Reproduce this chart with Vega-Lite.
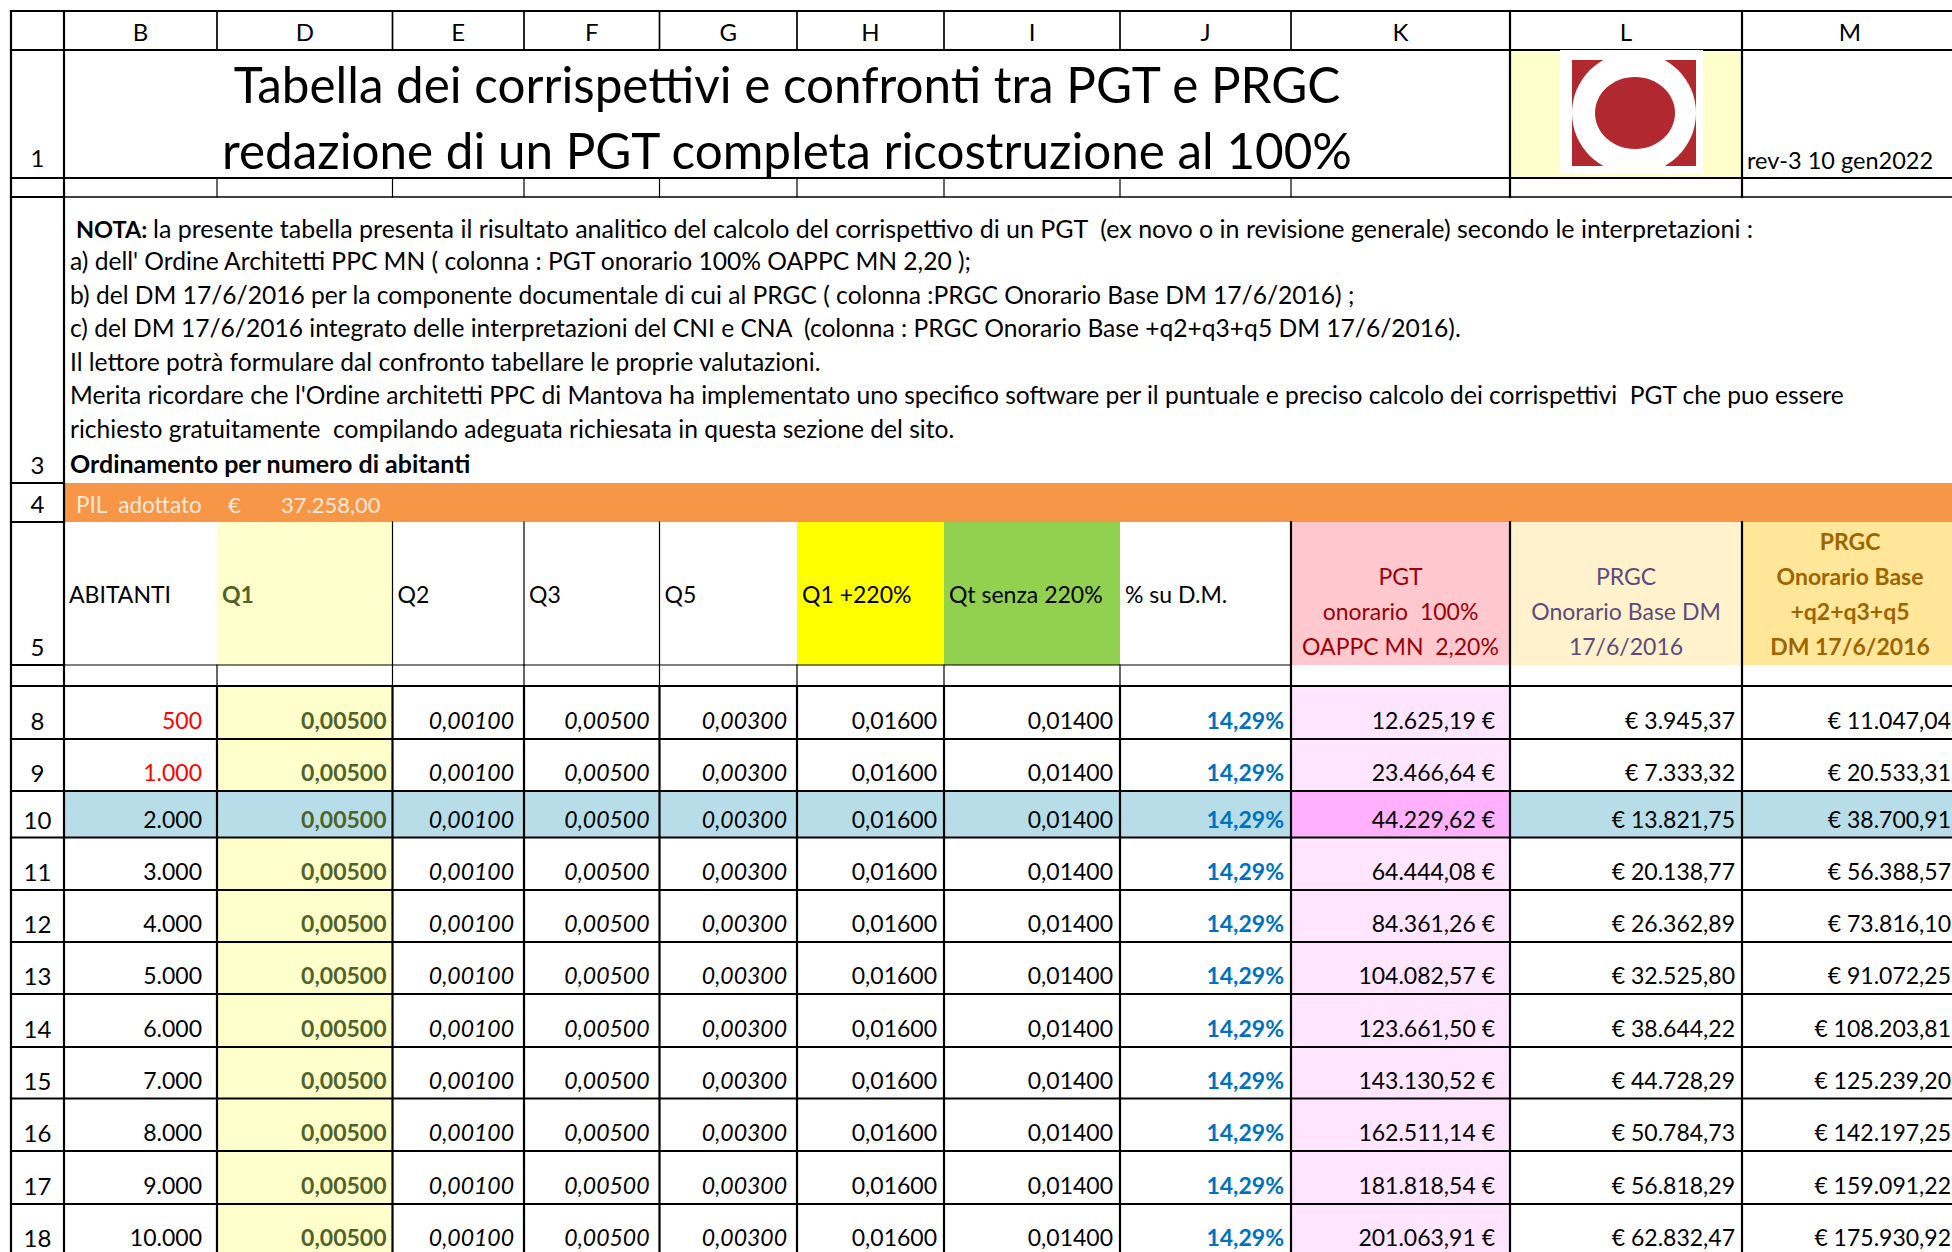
{
"$schema":"https://vega.github.io/schema/vega-lite/v6.json",
"width":1952,"height":1252,"autosize":"none","padding":0,"background":"white",
"config":{"view":{"stroke":null},"font":"Lato","text":{"font":"Lato"}},
"datasets":{
"cols":[
{"c":"0","cl":0,"cr":11,"cm":5.5},
{"c":"rh","cl":11,"cr":64,"cm":37.5},
{"c":"B","cl":64,"cr":217,"cm":140.5},
{"c":"D","cl":217,"cr":392.5,"cm":304.75},
{"c":"E","cl":392.5,"cr":524,"cm":458.25},
{"c":"F","cl":524,"cr":659.5,"cm":591.75},
{"c":"G","cl":659.5,"cr":797,"cm":728.25},
{"c":"H","cl":797,"cr":944,"cm":870.5},
{"c":"I","cl":944,"cr":1120,"cm":1032},
{"c":"J","cl":1120,"cr":1291,"cm":1205.5},
{"c":"K","cl":1291,"cr":1510,"cm":1400.5},
{"c":"L","cl":1510,"cr":1742,"cm":1626},
{"c":"M","cl":1742,"cr":1958,"cm":1850},
{"c":"B:K","cl":64,"cr":1510,"cm":787}
],
"rows":[
{"r":"0","rt":0,"rb":11,"rm":5.5},
{"r":"hdr","rt":11,"rb":50,"rm":30.5},
{"r":"1","rt":50,"rb":178,"rm":114},
{"r":"2","rt":178,"rb":197,"rm":187.5},
{"r":"3","rt":197,"rb":483,"rm":340},
{"r":"4","rt":483,"rb":522,"rm":502.5},
{"r":"5","rt":522,"rb":665,"rm":593.5},
{"r":"7","rt":665,"rb":686,"rm":675.5},
{"r":"8","rt":686,"rb":739,"rm":712.5},
{"r":"9","rt":739,"rb":791,"rm":765},
{"r":"10","rt":791,"rb":837.5,"rm":814.25},
{"r":"11","rt":837.5,"rb":890,"rm":863.75},
{"r":"12","rt":890,"rb":942,"rm":916},
{"r":"13","rt":942,"rb":994,"rm":968},
{"r":"14","rt":994,"rb":1047,"rm":1020.5},
{"r":"15","rt":1047,"rb":1098.5,"rm":1072.75},
{"r":"16","rt":1098.5,"rb":1151,"rm":1124.75},
{"r":"17","rt":1151,"rb":1204,"rm":1177.5},
{"r":"18","rt":1204,"rb":1256,"rm":1230}
],
"table":[
{"r":"8","B":"500","D":"0,00500","E":"0,00100","F":"0,00500","G":"0,00300","H":"0,01600","I":"0,01400","J":"14,29%","K":"12.625,19 €","L":"€ 3.945,37","M":"€ 11.047,04"},
{"r":"9","B":"1.000","D":"0,00500","E":"0,00100","F":"0,00500","G":"0,00300","H":"0,01600","I":"0,01400","J":"14,29%","K":"23.466,64 €","L":"€ 7.333,32","M":"€ 20.533,31"},
{"r":"10","B":"2.000","D":"0,00500","E":"0,00100","F":"0,00500","G":"0,00300","H":"0,01600","I":"0,01400","J":"14,29%","K":"44.229,62 €","L":"€ 13.821,75","M":"€ 38.700,91"},
{"r":"11","B":"3.000","D":"0,00500","E":"0,00100","F":"0,00500","G":"0,00300","H":"0,01600","I":"0,01400","J":"14,29%","K":"64.444,08 €","L":"€ 20.138,77","M":"€ 56.388,57"},
{"r":"12","B":"4.000","D":"0,00500","E":"0,00100","F":"0,00500","G":"0,00300","H":"0,01600","I":"0,01400","J":"14,29%","K":"84.361,26 €","L":"€ 26.362,89","M":"€ 73.816,10"},
{"r":"13","B":"5.000","D":"0,00500","E":"0,00100","F":"0,00500","G":"0,00300","H":"0,01600","I":"0,01400","J":"14,29%","K":"104.082,57 €","L":"€ 32.525,80","M":"€ 91.072,25"},
{"r":"14","B":"6.000","D":"0,00500","E":"0,00100","F":"0,00500","G":"0,00300","H":"0,01600","I":"0,01400","J":"14,29%","K":"123.661,50 €","L":"€ 38.644,22","M":"€ 108.203,81"},
{"r":"15","B":"7.000","D":"0,00500","E":"0,00100","F":"0,00500","G":"0,00300","H":"0,01600","I":"0,01400","J":"14,29%","K":"143.130,52 €","L":"€ 44.728,29","M":"€ 125.239,20"},
{"r":"16","B":"8.000","D":"0,00500","E":"0,00100","F":"0,00500","G":"0,00300","H":"0,01600","I":"0,01400","J":"14,29%","K":"162.511,14 €","L":"€ 50.784,73","M":"€ 142.197,25"},
{"r":"17","B":"9.000","D":"0,00500","E":"0,00100","F":"0,00500","G":"0,00300","H":"0,01600","I":"0,01400","J":"14,29%","K":"181.818,54 €","L":"€ 56.818,29","M":"€ 159.091,22"},
{"r":"18","B":"10.000","D":"0,00500","E":"0,00100","F":"0,00500","G":"0,00300","H":"0,01600","I":"0,01400","J":"14,29%","K":"201.063,91 €","L":"€ 62.832,47","M":"€ 175.930,92"}
],
"texts":[
{"role":"colhdr","r":"hdr","c":"B","t":"B"},
{"role":"colhdr","r":"hdr","c":"D","t":"D"},
{"role":"colhdr","r":"hdr","c":"E","t":"E"},
{"role":"colhdr","r":"hdr","c":"F","t":"F"},
{"role":"colhdr","r":"hdr","c":"G","t":"G"},
{"role":"colhdr","r":"hdr","c":"H","t":"H"},
{"role":"colhdr","r":"hdr","c":"I","t":"I"},
{"role":"colhdr","r":"hdr","c":"J","t":"J"},
{"role":"colhdr","r":"hdr","c":"K","t":"K"},
{"role":"colhdr","r":"hdr","c":"L","t":"L"},
{"role":"colhdr","r":"hdr","c":"M","t":"M"},
{"role":"rownum","r":"1","c":"rh","t":"1"},
{"role":"rownum","r":"3","c":"rh","t":"3"},
{"role":"rownum","r":"4","c":"rh","t":"4"},
{"role":"rownum","r":"5","c":"rh","t":"5"},
{"role":"rownum","r":"8","c":"rh","t":"8"},
{"role":"rownum","r":"9","c":"rh","t":"9"},
{"role":"rownum","r":"10","c":"rh","t":"10"},
{"role":"rownum","r":"11","c":"rh","t":"11"},
{"role":"rownum","r":"12","c":"rh","t":"12"},
{"role":"rownum","r":"13","c":"rh","t":"13"},
{"role":"rownum","r":"14","c":"rh","t":"14"},
{"role":"rownum","r":"15","c":"rh","t":"15"},
{"role":"rownum","r":"16","c":"rh","t":"16"},
{"role":"rownum","r":"17","c":"rh","t":"17"},
{"role":"rownum","r":"18","c":"rh","t":"18"},
{"role":"title","r":"1","c":"B:K","t":["Tabella dei corrispettivi e confronti tra PGT e PRGC","redazione di un PGT completa ricostruzione al 100%"]},
{"role":"rev","r":"1","c":"M","t":"rev-3 10 gen2022"},
{"role":"notab","r":"3","c":"B","t":"NOTA:"},
{"role":"note1","r":"3","c":"B","t":"la presente tabella presenta il risultato analitico del calcolo del corrispettivo di un PGT\u00a0 (ex novo o in revisione generale) secondo le interpretazioni :"},
{"role":"note","r":"3","c":"B","t":["a) dell' Ordine Architetti PPC MN ( colonna : PGT onorario 100% OAPPC MN 2,20 );","b) del DM 17/6/2016 per la componente documentale di cui al PRGC ( colonna :PRGC Onorario Base DM 17/6/2016) ;","c) del DM 17/6/2016 integrato delle interpretazioni del CNI e CNA\u00a0 (colonna : PRGC Onorario Base +q2+q3+q5 DM 17/6/2016).","Il lettore potrà formulare dal confronto tabellare le proprie valutazioni.","Merita ricordare che l'Ordine architetti PPC di Mantova ha implementato uno specifico software per il puntuale e preciso calcolo dei corrispettivi\u00a0 PGT che puo essere","richiesto gratuitamente\u00a0 compilando adeguata richiesata in questa sezione del sito."]},
{"role":"ordin","r":"3","c":"B","t":"Ordinamento per numero di abitanti"},
{"role":"pilL","r":"4","c":"B","t":"PIL\u00a0 adottato"},
{"role":"pilE","r":"4","c":"D","t":"€"},
{"role":"pilR","r":"4","c":"D","t":"37.258,00"},
{"role":"h5","r":"5","c":"B","t":"ABITANTI"},
{"role":"h5q1","r":"5","c":"D","t":"Q1"},
{"role":"h5","r":"5","c":"E","t":"Q2"},
{"role":"h5","r":"5","c":"F","t":"Q3"},
{"role":"h5","r":"5","c":"G","t":"Q5"},
{"role":"h5","r":"5","c":"H","t":"Q1 +220%"},
{"role":"h5","r":"5","c":"I","t":"Qt senza 220%"},
{"role":"h5","r":"5","c":"J","t":"% su D.M."},
{"role":"h5K","r":"5","c":"K","t":["PGT","onorario\u00a0 100%","OAPPC MN\u00a0 2,20%"]},
{"role":"h5L","r":"5","c":"L","t":["PRGC","Onorario Base DM","17/6/2016"]},
{"role":"h5M","r":"5","c":"M","t":["PRGC","Onorario Base","+q2+q3+q5","DM 17/6/2016"]}
],
"fills":[
{"k":"logo","c0":"L","c1":"L","r0":"1","r1":"1"},
{"k":"pil","c0":"B","c1":"M","r0":"4","r1":"4"},
{"k":"q1","c0":"D","c1":"D","r0":"5","r1":"5"},
{"k":"h220","c0":"H","c1":"H","r0":"5","r1":"5"},
{"k":"qt","c0":"I","c1":"I","r0":"5","r1":"5"},
{"k":"pgth","c0":"K","c1":"K","r0":"5","r1":"5"},
{"k":"prgch","c0":"L","c1":"L","r0":"5","r1":"5"},
{"k":"prgcxh","c0":"M","c1":"M","r0":"5","r1":"5"},
{"k":"q1","c0":"D","c1":"D","r0":"8","r1":"9"},
{"k":"q1","c0":"D","c1":"D","r0":"11","r1":"18"},
{"k":"pgt","c0":"K","c1":"K","r0":"8","r1":"9"},
{"k":"pgt","c0":"K","c1":"K","r0":"11","r1":"18"},
{"k":"sel","c0":"B","c1":"J","r0":"10","r1":"10"},
{"k":"pgtsel","c0":"K","c1":"K","r0":"10","r1":"10"},
{"k":"sel","c0":"L","c1":"M","r0":"10","r1":"10"}
],
"hlines":[
{"r":"0","c0":"rh","c1":"M","w":"thick"},
{"r":"hdr","c0":"rh","c1":"M","w":"thick"},
{"r":"1","c0":"rh","c1":"M","w":"thick"},
{"r":"2","c0":"B","c1":"M","w":"mid"},
{"r":"2","c0":"rh","c1":"rh","w":"thick"},
{"r":"3","c0":"rh","c1":"rh","w":"thick"},
{"r":"4","c0":"rh","c1":"rh","w":"thick"},
{"r":"5","c0":"B","c1":"J","w":"thin"},
{"r":"5","c0":"rh","c1":"rh","w":"thick"},
{"r":"7","c0":"rh","c1":"M","w":"thick"},
{"r":"8","c0":"rh","c1":"M","w":"thick"},
{"r":"9","c0":"rh","c1":"M","w":"thick"},
{"r":"10","c0":"rh","c1":"M","w":"thick"},
{"r":"11","c0":"rh","c1":"M","w":"thick"},
{"r":"12","c0":"rh","c1":"M","w":"thick"},
{"r":"13","c0":"rh","c1":"M","w":"thick"},
{"r":"14","c0":"rh","c1":"M","w":"thick"},
{"r":"15","c0":"rh","c1":"M","w":"thick"},
{"r":"16","c0":"rh","c1":"M","w":"thick"},
{"r":"17","c0":"rh","c1":"M","w":"thick"}
],
"vlines":[
{"c":"0","r0":"hdr","r1":"18","w":"thick"},
{"c":"rh","r0":"hdr","r1":"18","w":"thick"},
{"c":"B","r0":"hdr","r1":"hdr","w":"mid"},
{"c":"D","r0":"hdr","r1":"hdr","w":"mid"},
{"c":"E","r0":"hdr","r1":"hdr","w":"mid"},
{"c":"F","r0":"hdr","r1":"hdr","w":"mid"},
{"c":"G","r0":"hdr","r1":"hdr","w":"mid"},
{"c":"H","r0":"hdr","r1":"hdr","w":"mid"},
{"c":"I","r0":"hdr","r1":"hdr","w":"mid"},
{"c":"J","r0":"hdr","r1":"hdr","w":"mid"},
{"c":"K","r0":"hdr","r1":"2","w":"thick"},
{"c":"L","r0":"hdr","r1":"2","w":"thick"},
{"c":"B","r0":"2","r1":"2","w":"thin"},
{"c":"D","r0":"2","r1":"2","w":"thin"},
{"c":"E","r0":"2","r1":"2","w":"thin"},
{"c":"F","r0":"2","r1":"2","w":"thin"},
{"c":"G","r0":"2","r1":"2","w":"thin"},
{"c":"H","r0":"2","r1":"2","w":"thin"},
{"c":"I","r0":"2","r1":"2","w":"thin"},
{"c":"J","r0":"2","r1":"2","w":"thin"},
{"c":"D","r0":"5","r1":"5","w":"thin"},
{"c":"E","r0":"5","r1":"5","w":"thin"},
{"c":"F","r0":"5","r1":"5","w":"thin"},
{"c":"J","r0":"5","r1":"18","w":"thick"},
{"c":"K","r0":"5","r1":"18","w":"thick"},
{"c":"L","r0":"5","r1":"18","w":"thick"},
{"c":"B","r0":"7","r1":"7","w":"thin"},
{"c":"D","r0":"7","r1":"7","w":"thin"},
{"c":"E","r0":"7","r1":"7","w":"thin"},
{"c":"F","r0":"7","r1":"7","w":"thin"},
{"c":"G","r0":"7","r1":"7","w":"thin"},
{"c":"H","r0":"7","r1":"7","w":"thin"},
{"c":"I","r0":"7","r1":"7","w":"thin"},
{"c":"B","r0":"8","r1":"18","w":"thick"},
{"c":"D","r0":"8","r1":"18","w":"thick"},
{"c":"E","r0":"8","r1":"18","w":"thick"},
{"c":"F","r0":"8","r1":"18","w":"thick"},
{"c":"G","r0":"8","r1":"18","w":"thick"},
{"c":"H","r0":"8","r1":"18","w":"thick"},
{"c":"I","r0":"8","r1":"18","w":"thick"}
],
"logo":[{"c":"L","r":"1"}]
},
"layer":[
{
"data":{"name":"fills"},
"transform":[
{"lookup":"c0","from":{"data":{"name":"cols"},"key":"c","fields":["cl"]},"as":["x0"]},
{"lookup":"c1","from":{"data":{"name":"cols"},"key":"c","fields":["cr"]},"as":["x1"]},
{"lookup":"r0","from":{"data":{"name":"rows"},"key":"r","fields":["rt"]},"as":["y0"]},
{"lookup":"r1","from":{"data":{"name":"rows"},"key":"r","fields":["rb"]},"as":["y1"]}
],
"mark":{"type":"rect"},
"encoding":{
"x":{"field":"x0","type":"quantitative","scale":{"domain":[0,1952],"nice":false,"zero":false},"axis":null},
"x2":{"field":"x1"},
"y":{"field":"y0","type":"quantitative","scale":{"domain":[0,1252],"nice":false,"zero":false,"reverse":true},"axis":null},
"y2":{"field":"y1"},
"fill":{"field":"k","type":"nominal","legend":null,"scale":{"domain":["logo","pil","q1","h220","qt","pgth","prgch","prgcxh","pgt","sel","pgtsel"],"range":["#FFFFCC","#F79646","#FFFFCC","#FFFF00","#92D050","#FFC7CE","#FFF2CC","#FFE699","#FFE5FF","#B7DEE8","#FFB1FF"]}}
}
},
{
"data":{"name":"hlines"},
"transform":[
{"lookup":"c0","from":{"data":{"name":"cols"},"key":"c","fields":["cl"]},"as":["x0"]},
{"lookup":"c1","from":{"data":{"name":"cols"},"key":"c","fields":["cr"]},"as":["x1"]},
{"lookup":"r","from":{"data":{"name":"rows"},"key":"r","fields":["rb"]},"as":["y0"]}
],
"mark":{"type":"rule","color":"#000000","strokeCap":"square"},
"encoding":{
"x":{"field":"x0","type":"quantitative","scale":{"domain":[0,1952],"nice":false,"zero":false},"axis":null},
"x2":{"field":"x1"},
"y":{"field":"y0","type":"quantitative","scale":{"domain":[0,1252],"nice":false,"zero":false,"reverse":true},"axis":null},
"strokeWidth":{"field":"w","type":"nominal","legend":null,"scale":{"domain":["thin","mid","thick"],"range":[1.2,2.2,3.4]}}
}
},
{
"data":{"name":"vlines"},
"transform":[
{"lookup":"c","from":{"data":{"name":"cols"},"key":"c","fields":["cr"]},"as":["x0"]},
{"lookup":"r0","from":{"data":{"name":"rows"},"key":"r","fields":["rt"]},"as":["y0"]},
{"lookup":"r1","from":{"data":{"name":"rows"},"key":"r","fields":["rb"]},"as":["y1"]}
],
"mark":{"type":"rule","color":"#000000","strokeCap":"square"},
"encoding":{
"x":{"field":"x0","type":"quantitative","scale":{"domain":[0,1952],"nice":false,"zero":false},"axis":null},
"y":{"field":"y0","type":"quantitative","scale":{"domain":[0,1252],"nice":false,"zero":false,"reverse":true},"axis":null},
"y2":{"field":"y1"},
"strokeWidth":{"field":"w","type":"nominal","legend":null,"scale":{"domain":["thin","mid","thick"],"range":[1.2,2.2,3.4]}}
}
},
{
"data":{"name":"logo"},
"transform":[
{"lookup":"c","from":{"data":{"name":"cols"},"key":"c","fields":["cm"]}},
{"lookup":"r","from":{"data":{"name":"rows"},"key":"r","fields":["rm"]}}
],
"encoding":{
"x":{"field":"cm","type":"quantitative","scale":{"domain":[0,1952],"nice":false,"zero":false},"axis":null},
"y":{"field":"rm","type":"quantitative","scale":{"domain":[0,1252],"nice":false,"zero":false,"reverse":true},"axis":null}
},
"layer":[
{"mark":{"type":"point","filled":true,"opacity":1,"color":"#FFFFFF","strokeWidth":0,"xOffset":5.5,"yOffset":-2,"shape":"M-1,-0.867H1V0.867H-1Z","size":20449}},
{"mark":{"type":"point","filled":true,"opacity":1,"color":"#B1282F","strokeWidth":0,"xOffset":8,"yOffset":-1,"shape":"M-1,-0.855H1V0.855H-1Z","size":15376}},
{"mark":{"type":"point","filled":true,"opacity":1,"color":"#FFFFFF","strokeWidth":0,"xOffset":8,"yOffset":-1,"shape":"M0,-0.984C0.5523,-0.984 1,-0.5435 1,0C1,0.5435 0.5523,0.984 0,0.984C-0.5523,0.984 -1,0.5435 -1,0C-1,-0.5435 -0.5523,-0.984 0,-0.984Z","size":15376}},
{"mark":{"type":"point","filled":true,"opacity":1,"color":"#B1282F","strokeWidth":0,"xOffset":9,"yOffset":-1,"shape":"M0,-0.9C0.5523,-0.9 1,-0.497 1,0C1,0.497 0.5523,0.9 0,0.9C-0.5523,0.9 -1,0.497 -1,0C-1,-0.497 -0.5523,-0.9 0,-0.9Z","size":6400}}
]
},
{
"data":{"name":"table"},
"transform":[
{"fold":["B","D","E","F","G","H","I","J","K","L","M"],"as":["c","t"]},
{"lookup":"c","from":{"data":{"name":"cols"},"key":"c","fields":["cr"]}},
{"lookup":"r","from":{"data":{"name":"rows"},"key":"r","fields":["rb"]}}
],
"encoding":{
"x":{"field":"cr","type":"quantitative","scale":{"domain":[0,1952],"nice":false,"zero":false},"axis":null},
"y":{"field":"rb","type":"quantitative","scale":{"domain":[0,1252],"nice":false,"zero":false,"reverse":true},"axis":null},
"text":{"field":"t","type":"nominal"}
},
"layer":[
{"transform":[{"filter":"datum.c === 'B'"}],"mark":{"type":"text","align":"right","baseline":"alphabetic","dx":-15,"dy":-10,"fontSize":23},
 "encoding":{"color":{"condition":{"test":"datum.r === '8' || datum.r === '9'","value":"#FF0000"},"value":"#000000"}}},
{"transform":[{"filter":"datum.c === 'D'"}],"mark":{"type":"text","align":"right","baseline":"alphabetic","dx":-6,"dy":-10,"fontSize":23,"fontWeight":"bold","color":"#4F6228"}},
{"transform":[{"filter":"datum.c === 'E' || datum.c === 'F' || datum.c === 'G'"}],"mark":{"type":"text","align":"right","baseline":"alphabetic","dx":-10,"dy":-10,"fontSize":23,"fontStyle":"italic","color":"#000000"}},
{"transform":[{"filter":"datum.c === 'H' || datum.c === 'I' || datum.c === 'L' || datum.c === 'M'"}],"mark":{"type":"text","align":"right","baseline":"alphabetic","dx":-7,"dy":-10,"fontSize":23,"color":"#000000"}},
{"transform":[{"filter":"datum.c === 'J'"}],"mark":{"type":"text","align":"right","baseline":"alphabetic","dx":-7,"dy":-10,"fontSize":23,"fontWeight":"bold","color":"#0070C0"}},
{"transform":[{"filter":"datum.c === 'K'"}],"mark":{"type":"text","align":"right","baseline":"alphabetic","dx":-15,"dy":-10,"fontSize":23,"color":"#000000"}}
]
},
{
"data":{"name":"texts"},
"transform":[
{"lookup":"c","from":{"data":{"name":"cols"},"key":"c","fields":["cl","cr","cm"]}},
{"lookup":"r","from":{"data":{"name":"rows"},"key":"r","fields":["rt","rb","rm"]}}
],
"layer":[
{"transform":[{"filter":"datum.role === 'colhdr' || (datum.role === 'rownum' && datum.r !== '1')"}],
 "mark":{"type":"text","align":"center","baseline":"alphabetic","dy":-9,"fontSize":24,"color":"#000000"},
 "encoding":{"x":{"field":"cm","type":"quantitative","scale":{"domain":[0,1952],"nice":false,"zero":false},"axis":null},
  "y":{"field":"rb","type":"quantitative","scale":{"domain":[0,1252],"nice":false,"zero":false,"reverse":true},"axis":null},
  "text":{"field":"t","type":"nominal"}}},
{"transform":[{"filter":"datum.role === 'rownum' && datum.r === '1'"}],
 "mark":{"type":"text","align":"center","baseline":"alphabetic","dy":-11,"fontSize":24,"color":"#000000"},
 "encoding":{"x":{"field":"cm","type":"quantitative","scale":{"domain":[0,1952],"nice":false,"zero":false},"axis":null},
  "y":{"field":"rb","type":"quantitative","scale":{"domain":[0,1252],"nice":false,"zero":false,"reverse":true},"axis":null},
  "text":{"field":"t","type":"nominal"}}},
{"transform":[{"filter":"datum.role === 'title'"}],
 "mark":{"type":"text","align":"center","baseline":"alphabetic","dy":53,"fontSize":49.4,"lineHeight":66,"color":"#000000"},
 "encoding":{"x":{"field":"cm","type":"quantitative","scale":{"domain":[0,1952],"nice":false,"zero":false},"axis":null},
  "y":{"field":"rt","type":"quantitative","scale":{"domain":[0,1252],"nice":false,"zero":false,"reverse":true},"axis":null},
  "text":{"field":"t","type":"nominal"}}},
{"transform":[{"filter":"datum.role === 'rev'"}],
 "mark":{"type":"text","align":"left","baseline":"alphabetic","dx":5,"dy":-9,"fontSize":23.5,"color":"#000000"},
 "encoding":{"x":{"field":"cl","type":"quantitative","scale":{"domain":[0,1952],"nice":false,"zero":false},"axis":null},
  "y":{"field":"rb","type":"quantitative","scale":{"domain":[0,1252],"nice":false,"zero":false,"reverse":true},"axis":null},
  "text":{"field":"t","type":"nominal"}}},
{"transform":[{"filter":"datum.role === 'notab'"}],
 "mark":{"type":"text","align":"left","baseline":"alphabetic","dx":12,"dy":41,"fontSize":23.5,"fontWeight":"bold","color":"#000000"},
 "encoding":{"x":{"field":"cl","type":"quantitative","scale":{"domain":[0,1952],"nice":false,"zero":false},"axis":null},
  "y":{"field":"rt","type":"quantitative","scale":{"domain":[0,1252],"nice":false,"zero":false,"reverse":true},"axis":null},
  "text":{"field":"t","type":"nominal"}}},
{"transform":[{"filter":"datum.role === 'note1'"}],
 "mark":{"type":"text","align":"left","baseline":"alphabetic","dx":89,"dy":41,"fontSize":25,"color":"#000000"},
 "encoding":{"x":{"field":"cl","type":"quantitative","scale":{"domain":[0,1952],"nice":false,"zero":false},"axis":null},
  "y":{"field":"rt","type":"quantitative","scale":{"domain":[0,1252],"nice":false,"zero":false,"reverse":true},"axis":null},
  "text":{"field":"t","type":"nominal"}}},
{"transform":[{"filter":"datum.role === 'note'"}],
 "mark":{"type":"text","align":"left","baseline":"alphabetic","dx":6,"dy":73,"fontSize":24.6,"lineHeight":33.6,"color":"#000000"},
 "encoding":{"x":{"field":"cl","type":"quantitative","scale":{"domain":[0,1952],"nice":false,"zero":false},"axis":null},
  "y":{"field":"rt","type":"quantitative","scale":{"domain":[0,1252],"nice":false,"zero":false,"reverse":true},"axis":null},
  "text":{"field":"t","type":"nominal"}}},
{"transform":[{"filter":"datum.role === 'ordin'"}],
 "mark":{"type":"text","align":"left","baseline":"alphabetic","dx":6,"dy":-10,"fontSize":25,"fontWeight":"bold","color":"#000000"},
 "encoding":{"x":{"field":"cl","type":"quantitative","scale":{"domain":[0,1952],"nice":false,"zero":false},"axis":null},
  "y":{"field":"rb","type":"quantitative","scale":{"domain":[0,1252],"nice":false,"zero":false,"reverse":true},"axis":null},
  "text":{"field":"t","type":"nominal"}}},
{"transform":[{"filter":"datum.role === 'pilL'"}],
 "mark":{"type":"text","align":"left","baseline":"alphabetic","dx":12,"dy":-9,"fontSize":22.5,"color":"#FDE9D9"},
 "encoding":{"x":{"field":"cl","type":"quantitative","scale":{"domain":[0,1952],"nice":false,"zero":false},"axis":null},
  "y":{"field":"rb","type":"quantitative","scale":{"domain":[0,1252],"nice":false,"zero":false,"reverse":true},"axis":null},
  "text":{"field":"t","type":"nominal"}}},
{"transform":[{"filter":"datum.role === 'pilE'"}],
 "mark":{"type":"text","align":"left","baseline":"alphabetic","dx":11,"dy":-9,"fontSize":22,"color":"#FDE9D9"},
 "encoding":{"x":{"field":"cl","type":"quantitative","scale":{"domain":[0,1952],"nice":false,"zero":false},"axis":null},
  "y":{"field":"rb","type":"quantitative","scale":{"domain":[0,1252],"nice":false,"zero":false,"reverse":true},"axis":null},
  "text":{"field":"t","type":"nominal"}}},
{"transform":[{"filter":"datum.role === 'pilR'"}],
 "mark":{"type":"text","align":"right","baseline":"alphabetic","dx":-12,"dy":-9,"fontSize":22,"color":"#FDE9D9"},
 "encoding":{"x":{"field":"cr","type":"quantitative","scale":{"domain":[0,1952],"nice":false,"zero":false},"axis":null},
  "y":{"field":"rb","type":"quantitative","scale":{"domain":[0,1252],"nice":false,"zero":false,"reverse":true},"axis":null},
  "text":{"field":"t","type":"nominal"}}},
{"transform":[{"filter":"datum.role === 'h5'"}],
 "mark":{"type":"text","align":"left","baseline":"middle","dx":5,"dy":2,"fontSize":23,"color":"#000000"},
 "encoding":{"x":{"field":"cl","type":"quantitative","scale":{"domain":[0,1952],"nice":false,"zero":false},"axis":null},
  "y":{"field":"rm","type":"quantitative","scale":{"domain":[0,1252],"nice":false,"zero":false,"reverse":true},"axis":null},
  "text":{"field":"t","type":"nominal"}}},
{"transform":[{"filter":"datum.role === 'h5q1'"}],
 "mark":{"type":"text","align":"left","baseline":"middle","dx":5,"dy":2,"fontSize":23,"fontWeight":"bold","color":"#4F6228"},
 "encoding":{"x":{"field":"cl","type":"quantitative","scale":{"domain":[0,1952],"nice":false,"zero":false},"axis":null},
  "y":{"field":"rm","type":"quantitative","scale":{"domain":[0,1252],"nice":false,"zero":false,"reverse":true},"axis":null},
  "text":{"field":"t","type":"nominal"}}},
{"transform":[{"filter":"datum.role === 'h5K'"}],
 "mark":{"type":"text","align":"center","baseline":"alphabetic","dy":-80,"fontSize":23,"lineHeight":35,"color":"#9C0006"},
 "encoding":{"x":{"field":"cm","type":"quantitative","scale":{"domain":[0,1952],"nice":false,"zero":false},"axis":null},
  "y":{"field":"rb","type":"quantitative","scale":{"domain":[0,1252],"nice":false,"zero":false,"reverse":true},"axis":null},
  "text":{"field":"t","type":"nominal"}}},
{"transform":[{"filter":"datum.role === 'h5L'"}],
 "mark":{"type":"text","align":"center","baseline":"alphabetic","dy":-80,"fontSize":23,"lineHeight":35,"color":"#604A7B"},
 "encoding":{"x":{"field":"cm","type":"quantitative","scale":{"domain":[0,1952],"nice":false,"zero":false},"axis":null},
  "y":{"field":"rb","type":"quantitative","scale":{"domain":[0,1252],"nice":false,"zero":false,"reverse":true},"axis":null},
  "text":{"field":"t","type":"nominal"}}},
{"transform":[{"filter":"datum.role === 'h5M'"}],
 "mark":{"type":"text","align":"center","baseline":"alphabetic","dy":-115,"fontSize":23,"lineHeight":35,"fontWeight":"bold","color":"#9C6500"},
 "encoding":{"x":{"field":"cm","type":"quantitative","scale":{"domain":[0,1952],"nice":false,"zero":false},"axis":null},
  "y":{"field":"rb","type":"quantitative","scale":{"domain":[0,1252],"nice":false,"zero":false,"reverse":true},"axis":null},
  "text":{"field":"t","type":"nominal"}}}
]
}
]
}
